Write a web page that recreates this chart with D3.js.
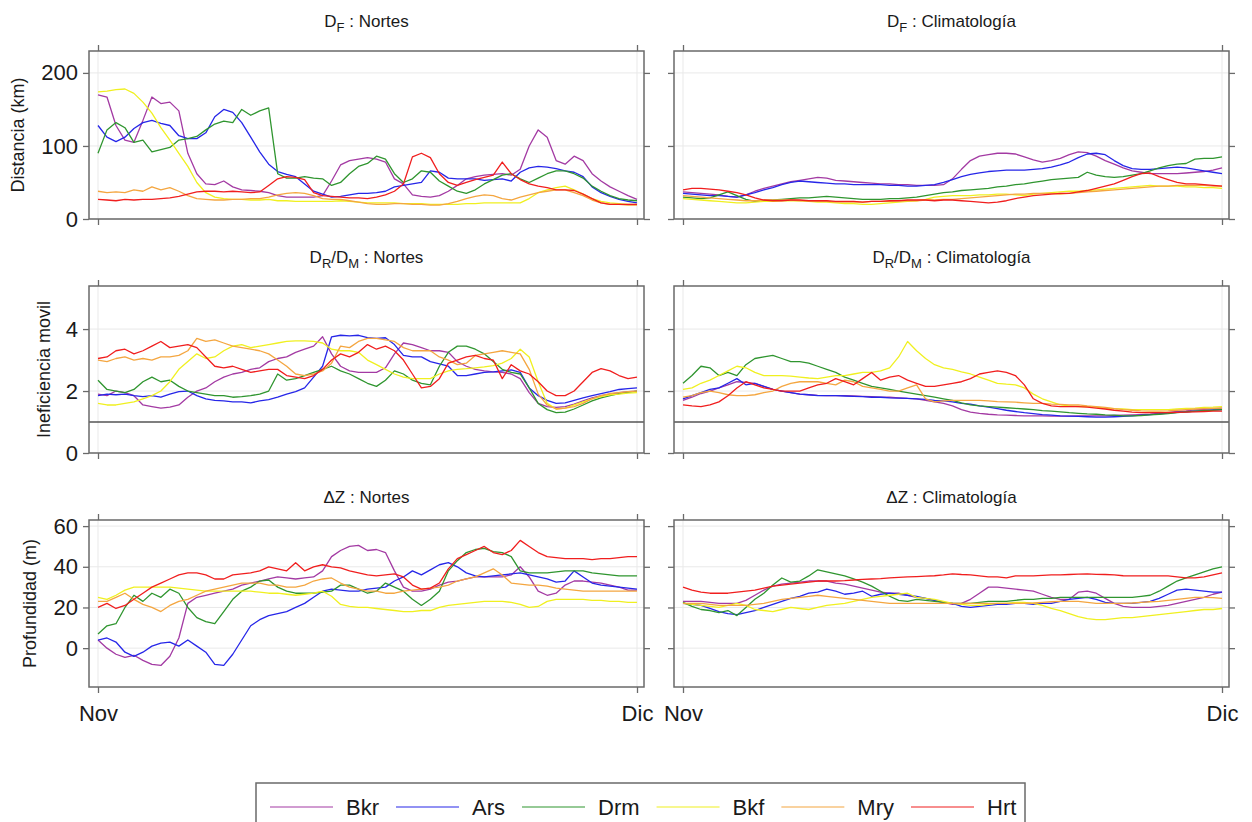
<!DOCTYPE html>
<html>
<head>
<meta charset="utf-8">
<script src="https://cdn.jsdelivr.net/npm/d3@7"></script>
<style>
  body { margin: 0; background: #fff; }
  svg text { font-family: "Liberation Sans", Arial, sans-serif; fill: #1a1a1a; }
</style>
</head>
<body>
<svg id="chart" width="1252" height="822"></svg>
<script>
// Stations (legend order) and their line colours
const seriesNames  = ["Bkr", "Ars", "Drm", "Bkf", "Mry", "Hrt"];
const seriesColors = ["#a33aa3", "#2626e8", "#2f952f", "#f0f020", "#f4a640", "#f01e1e"];

// Sampling: every half day from 1 Nov (0) to 1 Dic (30)
const dayOffsets   = d3.range(61).map(i => i / 2);
const xTickValues  = [0, 30];
const xTickLabels  = ["Nov", "Dic"];

// ---- D_F : Nortes (km)
const dfNortesBkr = [170,167,128,108,105,135,167,158,160,148, 90,62,48,47,52,44,40,39,38,36, 32,30,30,30,30,32,52,74,80,82, 84,82,78,55,48,33,31,30,32,38, 46,55,58,60,61,62,60,68,100,122, 112,80,75,86,80,62,52,44,38,32, 27];
const dfNortesArs = [128,112,106,112,124,132,135,131,128,114, 110,110,118,140,150,146,132,112,92,75, 65,61,58,48,38,34,30,31,33,35, 35,36,38,44,46,48,50,66,64,56, 55,55,55,53,54,55,52,64,70,72, 71,69,66,64,58,44,36,31,27,24, 22];
const dfNortesDrm = [90,122,132,125,105,108,92,95,98,108, 110,113,122,130,134,132,150,142,148,152, 62,56,56,58,56,55,46,50,62,72, 76,86,82,62,50,55,66,64,52,45, 38,35,40,48,54,60,62,55,50,56, 62,66,66,62,56,45,38,32,28,26, 25];
const dfNortesBkf = [174,175,177,178,172,160,145,125,108,90, 72,50,36,30,28,27,27,26,26,27, 25,25,24,24,24,24,24,25,24,23, 22,22,22,22,21,21,21,20,20,20, 20,21,21,22,22,22,22,22,28,36, 40,43,45,40,34,28,24,22,21,20, 20];
const dfNortesMry = [38,36,37,36,40,38,44,40,43,38, 32,28,27,26,26,27,27,28,28,30, 33,35,36,35,32,28,27,27,25,23, 21,20,20,21,21,20,20,19,19,21, 24,28,31,33,32,28,26,30,33,36, 38,40,40,36,32,26,22,20,20,19, 19];
const dfNortesHrt = [27,26,25,27,26,27,27,28,29,31, 34,37,38,38,37,38,37,36,37,46, 55,58,57,54,36,32,31,30,29,29, 28,30,33,38,48,85,90,84,62,50, 46,50,54,57,60,78,62,54,48,45, 43,40,40,39,34,28,22,20,20,20, 20];

// ---- D_F : Climatología (km)
const dfClimBkr = [37,36,35,34,33,31,30,33,38,42, 45,48,51,53,55,57,56,53,52,51, 50,49,48,48,47,47,46,46,46,47, 55,68,80,86,88,90,90,89,85,81, 78,80,83,88,92,91,86,80,75,70, 66,64,62,62,62,62,63,64,65,67, 70];
const dfClimArs = [35,34,33,32,32,31,30,33,36,40, 43,47,50,52,51,50,49,48,48,47, 47,47,47,46,46,45,45,46,47,50, 54,58,61,63,65,66,67,67,67,68, 69,71,74,78,84,89,90,88,80,73, 69,68,68,69,70,71,70,68,66,64, 62];
const dfClimDrm = [30,29,28,29,33,37,32,27,24,25, 26,27,28,29,29,30,31,30,29,28, 27,27,27,28,28,29,30,32,34,36, 37,39,40,41,42,44,45,47,48,50, 52,54,55,56,57,64,60,58,57,58, 60,62,66,70,73,75,76,82,83,83, 85];
const dfClimBkf = [28,27,26,25,24,23,22,22,23,24, 24,25,25,25,24,23,23,22,21,21, 20,20,21,22,23,24,25,27,30,31, 32,32,32,33,33,34,34,33,32,34, 35,36,37,38,38,39,40,41,42,43, 44,45,46,45,45,45,44,44,43,43, 42];
const dfClimMry = [32,31,30,29,28,27,26,25,25,26, 26,26,26,25,25,24,24,23,23,23, 23,24,24,24,25,25,25,26,26,27, 27,28,29,30,31,32,33,34,34,35, 35,35,34,35,36,37,38,39,40,41, 42,43,44,45,45,46,46,46,46,45, 45];
const dfClimHrt = [40,42,42,41,40,38,36,33,29,26, 25,25,26,26,25,25,25,24,24,24, 23,24,24,25,25,26,26,26,25,26, 26,25,24,23,22,23,25,28,30,32, 33,34,35,35,37,39,42,45,48,53, 58,62,63,58,54,50,48,48,47,46, 45];

// ---- D_R/D_M : Nortes (ineficiencia)
const drNortesBkr = [1.9,1.85,2.0,1.95,1.85,1.55,1.5,1.45,1.48,1.55, 1.8,2.0,2.1,2.3,2.45,2.55,2.6,2.7,2.75,2.95, 3.05,3.1,3.25,3.35,3.45,3.75,3.2,2.8,2.65,2.6, 2.6,2.6,2.75,3.2,3.55,3.5,3.4,3.3,3.3,3.25, 2.95,2.8,2.7,2.65,2.62,2.6,2.55,2.4,1.95,1.6, 1.5,1.47,1.5,1.58,1.68,1.78,1.85,1.9,1.95,1.98, 2.0];
const drNortesArs = [1.85,1.9,1.88,1.9,1.85,1.82,1.85,1.8,1.9,1.98, 2.0,1.85,1.75,1.7,1.68,1.65,1.65,1.62,1.68,1.72, 1.8,1.9,1.98,2.1,2.45,2.8,3.75,3.8,3.78,3.8, 3.72,3.7,3.72,3.5,3.15,3.1,3.1,2.95,2.88,2.8, 2.5,2.5,2.55,2.6,2.62,2.65,2.68,2.6,2.1,1.85, 1.7,1.6,1.62,1.7,1.78,1.85,1.92,1.98,2.05,2.08, 2.1];
const drNortesDrm = [2.35,2.05,2.0,1.95,2.05,2.3,2.45,2.3,2.35,2.15, 2.0,1.95,1.9,1.85,1.85,1.8,1.82,1.85,1.9,2.0, 2.55,2.35,2.4,2.5,2.6,2.7,2.8,2.65,2.55,2.4, 2.25,2.15,2.35,2.65,2.55,2.35,2.25,2.2,2.8,3.25, 3.45,3.45,3.35,3.2,2.95,2.7,2.6,2.55,2.1,1.6, 1.4,1.3,1.32,1.42,1.55,1.68,1.78,1.85,1.92,1.96, 2.0];
const drNortesBkf = [1.6,1.55,1.55,1.6,1.65,1.75,1.85,2.0,2.3,2.7, 2.95,3.2,3.05,3.1,3.3,3.45,3.5,3.4,3.45,3.5, 3.55,3.6,3.62,3.62,3.6,3.55,3.35,3.3,3.3,3.25, 3.0,2.85,2.7,2.55,2.45,2.4,2.4,2.4,2.55,2.65, 2.7,2.72,2.75,2.78,2.82,2.9,3.05,3.35,3.1,2.3, 1.6,1.42,1.45,1.55,1.65,1.75,1.82,1.88,1.9,1.93, 1.95];
const drNortesMry = [3.0,2.95,3.05,3.1,3.0,3.05,3.0,3.1,3.1,3.15, 3.3,3.7,3.6,3.65,3.55,3.45,3.4,3.35,3.3,3.2, 3.0,2.8,2.55,2.5,2.55,2.65,2.9,3.45,3.4,3.6, 3.7,3.7,3.65,3.6,3.4,3.3,3.3,3.3,3.1,3.0, 2.85,2.9,3.15,3.2,3.25,3.3,3.25,3.2,2.7,1.9, 1.55,1.42,1.45,1.5,1.6,1.75,1.85,1.92,1.95,1.98, 2.0];
const drNortesHrt = [3.05,3.1,3.3,3.35,3.2,3.3,3.45,3.6,3.4,3.45, 3.5,3.4,3.1,2.8,2.75,2.8,2.7,2.6,2.65,2.7, 2.7,2.5,2.45,2.4,2.5,2.7,3.0,3.2,3.1,3.25, 3.5,3.35,3.45,3.3,3.0,2.55,2.1,2.15,2.4,2.9, 3.0,3.1,3.15,3.05,3.0,2.4,2.85,2.65,2.55,2.3, 2.0,1.85,1.85,2.0,2.3,2.6,2.72,2.65,2.5,2.4, 2.45];

// ---- D_R/D_M : Climatología
const drClimBkr = [1.7,1.8,1.92,2.0,2.1,2.2,2.3,2.28,2.25,2.15, 2.05,2.0,1.95,1.9,1.88,1.86,1.85,1.85,1.85,1.84, 1.83,1.82,1.8,1.8,1.78,1.76,1.75,1.7,1.65,1.6, 1.52,1.4,1.32,1.28,1.25,1.23,1.22,1.21,1.2,1.2, 1.2,1.19,1.19,1.19,1.2,1.2,1.2,1.2,1.21,1.22, 1.23,1.24,1.25,1.28,1.31,1.34,1.36,1.39,1.41,1.43, 1.45];
const drClimArs = [1.75,1.85,1.95,2.05,2.1,2.25,2.4,2.2,2.25,2.15, 2.05,2.0,1.95,1.9,1.88,1.85,1.85,1.85,1.84,1.83, 1.82,1.8,1.8,1.78,1.77,1.76,1.75,1.73,1.7,1.68, 1.65,1.6,1.58,1.52,1.48,1.43,1.38,1.34,1.3,1.27, 1.24,1.22,1.2,1.19,1.18,1.17,1.16,1.16,1.17,1.18, 1.2,1.22,1.24,1.26,1.29,1.31,1.33,1.35,1.37,1.39, 1.4];
const drClimDrm = [2.25,2.5,2.8,2.75,2.5,2.6,2.5,2.85,3.05,3.1, 3.15,3.05,2.95,2.95,2.9,2.8,2.7,2.6,2.45,2.35, 2.25,2.15,2.1,2.05,2.0,1.95,1.9,1.85,1.8,1.75, 1.7,1.62,1.55,1.52,1.5,1.48,1.46,1.44,1.42,1.4, 1.37,1.35,1.33,1.3,1.28,1.26,1.25,1.23,1.22,1.2, 1.2,1.21,1.23,1.25,1.27,1.3,1.33,1.35,1.37,1.38, 1.4];
const drClimBkf = [2.05,2.1,2.25,2.35,2.5,2.65,2.8,2.75,2.6,2.5, 2.5,2.5,2.48,2.45,2.42,2.4,2.45,2.5,2.5,2.55, 2.6,2.6,2.65,2.75,3.1,3.6,3.3,3.05,2.85,2.75, 2.7,2.62,2.55,2.45,2.35,2.25,2.22,2.2,2.1,1.9, 1.75,1.65,1.55,1.52,1.5,1.5,1.48,1.45,1.43,1.42, 1.4,1.4,1.4,1.4,1.4,1.42,1.44,1.45,1.47,1.48, 1.5];
const drClimMry = [1.8,1.85,1.95,2.0,1.95,1.88,1.85,1.85,1.88,1.95, 2.0,2.15,2.25,2.3,2.3,2.3,2.25,2.2,2.35,2.3, 2.15,2.1,2.05,2.0,2.0,2.1,2.2,1.75,1.65,1.68, 1.7,1.7,1.7,1.7,1.68,1.66,1.65,1.64,1.62,1.6, 1.6,1.58,1.57,1.55,1.55,1.52,1.5,1.47,1.43,1.4, 1.38,1.36,1.35,1.35,1.36,1.38,1.4,1.42,1.43,1.44, 1.45];
const drClimHrt = [1.55,1.52,1.5,1.55,1.65,1.85,2.1,2.3,2.2,2.1, 2.05,2.0,2.0,2.0,2.1,2.2,2.25,2.4,2.3,2.2, 2.4,2.6,2.35,2.45,2.5,2.35,2.25,2.15,2.15,2.2, 2.25,2.3,2.4,2.55,2.6,2.65,2.6,2.5,2.2,1.75, 1.6,1.52,1.5,1.5,1.5,1.48,1.45,1.42,1.38,1.35, 1.32,1.3,1.3,1.3,1.3,1.31,1.32,1.33,1.34,1.35, 1.35];

// ---- ΔZ : Nortes (m)
const dzNortesBkr = [4,0,-3,-4.5,-3.5,-6,-8,-8.5,-4,5, 22,25,26,27,28,29,31,32,33,34, 35,34.5,34,34.5,35,38,45,48,50,50.5, 48,48.5,47,38,30,28,28,29,31,32.5, 33,34,35,35,35,35,36,40,35,28, 26,27,31,33,33,32.5,32,31,30,28.5, 28.5];
const dzNortesArs = [4,5,3,-2,-4,-2,1,2.5,3,1, 4,1,-2,-8,-8.5,-3,4,11,14,16, 17,18,20,22,25,28,29,28.5,28,28, 29,29.5,30,33,35,38,36,38.5,41,42, 40,37,35.5,35,35.5,36,36.5,37,36,35, 34,32.5,33,38,35,32,31,30.5,30,29.5, 29];
const dzNortesDrm = [7,11,12,20,26,23,27,25,29,27, 20,15,13,12,18,24,28,30,33,33.5, 30,28,27,27,27,27.5,28,31,31,29, 27,28,32,30,28,24,21,24,28,38, 43,47,48.5,49,47.5,47,45,38,37,37, 37,37.5,38,38,38,37,36.5,36,35.5,35.5, 35.5];
const dzNortesBkf = [25,24,26,28.5,30,30,30,30,30,29.5, 29,28.5,28,28,28,28,28,28,27.5,27, 27,26.5,26,26.5,27,28,25.5,21.5,20.5,20, 20,19.5,19,18.5,18,18,18.5,18.5,20,21, 21.5,22,22.5,23,23,23,22.5,21.5,20,20.5, 23,24,24,24,24,23.5,23.5,23,23,22.5, 22.5];
const dzNortesMry = [23,23,25,27,24,21.5,20,18,21,23, 24,26,28,29,30,31,32,32,32,31, 31,30,30,31,33,34,34.5,32,30,29, 28,28,27,27,28,28.5,29,29.5,30,31, 33,34,35,37,39,36,32,31.5,31,31, 30.5,29.5,29,28.5,28,28,28,28,28,28, 28];
const dzNortesHrt = [20,22,19.5,21,24,27,30,32,34,36, 37,37,36,34,34,36,36.5,37,38,40, 39,38,42,38,40,41,40,39.5,38,37, 36,35.5,36,36.5,35,31,29,29.5,32,39, 44,46,48,50,47,46,48,53,50,47, 45,44.5,44,44,44,43.5,44,44,44.5,45, 45];

// ---- ΔZ : Climatología (m)
const dzClimBkr = [23,23,23,22.5,22,22,22,23.5,26,28.5, 30.5,31.5,32,32.5,33,33,33,32,31.5,30.5, 29.5,28.5,27.5,27,27,26,25,24.5,23.5,22.5, 21.5,22,24,27,30,30,29.5,29,28.5,28, 26.5,25,24,24,27.5,28,27,24.5,22,20.5, 20,20,20,20.5,21,22,23,24,25,26.5, 27.5];
const dzClimArs = [22,21.5,21,19.5,18,17,16.5,17.5,18.5,20, 21.5,23,24.5,25.5,27,27.5,29,28,26.5,27, 28,25.5,26.5,27,26.5,26,25.5,24.5,23.5,22.5, 22,20.5,20,20.5,21,21.5,21.5,22,22,21.5, 22,22,23,24,24.5,25,24,22.5,22,22, 22,22.5,23,24.5,26.5,28.5,29,28.5,28,27.5, 27.5];
const dzClimDrm = [22.5,20.5,19,18.5,17.5,18.5,16,20,24,27, 31,34.5,32.5,33,35.5,38.5,37.5,36.5,35.5,34, 32.5,30.5,28,25.5,23.5,23,24,23.5,23,22.5, 22,22,22,22.5,23,23,23,23.5,24,24, 24.5,24.5,25,25,25,25,25,25,25,25, 25,25.5,26,28,30.5,33,34.5,36,37.5,39, 40];
const dzClimBkf = [22,21.5,21,20.5,20,21,22,21,19,18.5, 18,19,20,19.5,19,20,21,21.5,22,23, 24,25,25.5,26,26.5,27,25,24.5,24,23, 22,21.5,21,21,21.5,22,22,22.5,22.5,22, 21,19.5,18.5,17,15.5,14.5,14,14,14.5,15, 15,15.5,16,16.5,17,17.5,18,18.5,19,19, 19.5];
const dzClimMry = [22,22,22,21.5,21,21,21,21,21.5,22, 23,24,24.5,25,25.5,26,25.5,25,24.5,24, 23.5,23,22.5,22,22,22,22,22,22,22, 22,22,22,22,22,22,22,22,22,22.2, 22.5,22.8,23,23,23,22.5,22,22,22,22, 22.2,22.5,22.8,23,23.5,24,24.5,25,25,24.8, 24.5];
const dzClimHrt = [30,28.5,27.5,27,27,27,27.5,28,28.5,29.5, 30.5,31,31.5,32,32.5,33,33,33,33.2,33.5, 33.8,34,34.2,34.5,34.8,35,35.2,35.4,35.6,36, 36.5,36.2,36,35.5,35,35,34.5,35.5,35.5,35.5, 35.8,36,36,36.2,36.4,36.5,36.3,36.2,36,35.6, 35.5,35.5,35.5,35.5,35.5,35,34.5,34.5,35,36, 37];

// Panel grid: rows = variable, columns = scenario
const panelSeries = [
  [[dfNortesBkr, dfNortesArs, dfNortesDrm, dfNortesBkf, dfNortesMry, dfNortesHrt],
   [dfClimBkr, dfClimArs, dfClimDrm, dfClimBkf, dfClimMry, dfClimHrt]],
  [[drNortesBkr, drNortesArs, drNortesDrm, drNortesBkf, drNortesMry, drNortesHrt],
   [drClimBkr, drClimArs, drClimDrm, drClimBkf, drClimMry, drClimHrt]],
  [[dzNortesBkr, dzNortesArs, dzNortesDrm, dzNortesBkf, dzNortesMry, dzNortesHrt],
   [dzClimBkr, dzClimArs, dzClimDrm, dzClimBkf, dzClimMry, dzClimHrt]]
];

const rowTicks = [[0, 100, 200], [0, 2, 4], [0, 20, 40, 60]];
const colNames = ["Nortes", "Climatología"];

// Layout
const rows = [
  { title: [["D", 0], ["F", 1]],                     ylabel: "Distancia (km)",     domain: [0, 230],     top: 51,  bottom: 219, ylabX: 18, titleY: 27,  ref: null },
  { title: [["D", 0], ["R", 1], ["/D", 0], ["M", 1]], ylabel: "Ineficiencia movil", domain: [0, 5.39],    top: 286, bottom: 453, ylabX: 44, titleY: 263, ref: 1 },
  { title: [["\u0394Z", 0]],                           ylabel: "Profundidad (m)",    domain: [-19.1, 63],  top: 520, bottom: 687, ylabX: 30, titleY: 503, ref: null }
];
const cols = [{ left: 89, right: 644 }, { left: 674, right: 1229 }];

const svg = d3.select("#chart");
const frameColor = "#6a6a6a";
const gridColor = "#e9e9e9";

rows.forEach((row, ri) => {
  const y = d3.scaleLinear().domain(row.domain).range([row.bottom, row.top]);

  // y-axis title
  svg.append("text")
    .attr("transform", `translate(${row.ylabX},${(row.top + row.bottom) / 2}) rotate(-90)`)
    .attr("text-anchor", "middle")
    .attr("dominant-baseline", "central")
    .attr("font-size", 18)
    .text(row.ylabel);

  cols.forEach((col, ci) => {
    const x = d3.scaleLinear().domain([0, 30]).range([col.left + 9, col.right - 7]);
    const g = svg.append("g");
    const clipId = `clip-${ri}-${ci}`;
    g.append("clipPath").attr("id", clipId)
      .append("rect").attr("x", col.left).attr("y", row.top)
      .attr("width", col.right - col.left).attr("height", row.bottom - row.top);

    // grid
    g.append("g").selectAll("line").data(rowTicks[ri]).join("line")
      .attr("x1", col.left).attr("x2", col.right)
      .attr("y1", d => y(d)).attr("y2", d => y(d))
      .attr("stroke", gridColor).attr("stroke-width", 1);
    g.append("g").selectAll("line").data(xTickValues).join("line")
      .attr("x1", d => x(d)).attr("x2", d => x(d))
      .attr("y1", row.top).attr("y2", row.bottom)
      .attr("stroke", gridColor).attr("stroke-width", 1);

    // reference line (ratio = 1)
    if (row.ref !== null) {
      g.append("line")
        .attr("x1", col.left).attr("x2", col.right)
        .attr("y1", y(row.ref)).attr("y2", y(row.ref))
        .attr("stroke", "#555").attr("stroke-width", 1.3);
    }

    // series
    const line = d3.line().x((d, i) => x(dayOffsets[i])).y(d => y(d));
    g.append("g").attr("clip-path", `url(#${clipId})`)
      .selectAll("path").data(panelSeries[ri][ci]).join("path")
      .attr("d", line)
      .attr("fill", "none")
      .attr("stroke", (d, i) => seriesColors[i])
      .attr("stroke-width", 1.3)
      .attr("stroke-linejoin", "round");

    // frame
    g.append("rect")
      .attr("x", col.left).attr("y", row.top)
      .attr("width", col.right - col.left).attr("height", row.bottom - row.top)
      .attr("fill", "none").attr("stroke", frameColor).attr("stroke-width", 1.5);

    // axes (ticks on all four sides, labels only on outer edges)
    const styleAxis = sel => {
      sel.select(".domain").remove();
      sel.selectAll(".tick line").attr("stroke", frameColor).attr("stroke-width", 1.3);
      sel.selectAll(".tick text").attr("font-size", 22).attr("fill", "#1a1a1a")
        .attr("font-family", '"Liberation Sans", Arial, sans-serif');
      sel.attr("font-family", null).attr("font-size", null);
    };
    g.append("g").attr("transform", `translate(${col.left},0)`)
      .call(d3.axisLeft(y).tickValues(rowTicks[ri]).tickSize(6).tickPadding(5)
        .tickFormat(ci === 0 ? d3.format("d") : () => ""))
      .call(styleAxis);
    g.append("g").attr("transform", `translate(${col.right},0)`)
      .call(d3.axisRight(y).tickValues(rowTicks[ri]).tickSize(6).tickFormat(() => ""))
      .call(styleAxis);
    g.append("g").attr("transform", `translate(0,${row.top})`)
      .call(d3.axisTop(x).tickValues(xTickValues).tickSize(6).tickFormat(() => ""))
      .call(styleAxis);
    g.append("g").attr("transform", `translate(0,${row.bottom})`)
      .call(d3.axisBottom(x).tickValues(xTickValues).tickSize(6).tickPadding(12)
        .tickFormat((d, i) => ri === rows.length - 1 ? xTickLabels[i] : ""))
      .call(styleAxis);

    // panel title with subscripts
    const t = svg.append("text")
      .attr("x", (col.left + col.right) / 2).attr("y", row.titleY)
      .attr("text-anchor", "middle").attr("font-size", 17);
    let lowered = false;
    row.title.concat([[" : " + colNames[ci], 0]]).forEach(([s, sub]) => {
      const ts = t.append("tspan").text(s);
      if (sub) {
        ts.attr("font-size", 13);
        if (!lowered) { ts.attr("dy", 5); lowered = true; }
      } else if (lowered) {
        ts.attr("dy", -5); lowered = false;
      }
    });
  });
});

// Legend
const legend = svg.append("g");
legend.append("rect")
  .attr("x", 256).attr("y", 783).attr("width", 769).attr("height", 60)
  .attr("fill", "none").attr("stroke", frameColor).attr("stroke-width", 1.5);
let lx = 270;
const ly = 807;
seriesNames.forEach((name, i) => {
  legend.append("line")
    .attr("x1", lx).attr("x2", lx + 63).attr("y1", ly).attr("y2", ly)
    .attr("stroke", seriesColors[i]).attr("stroke-width", 1.1);
  const txt = legend.append("text")
    .attr("x", lx + 76).attr("y", ly)
    .attr("dominant-baseline", "central")
    .attr("font-size", 22)
    .text(name);
  lx += 76 + txt.node().getComputedTextLength() + 17;
});
</script>
</body>
</html>
